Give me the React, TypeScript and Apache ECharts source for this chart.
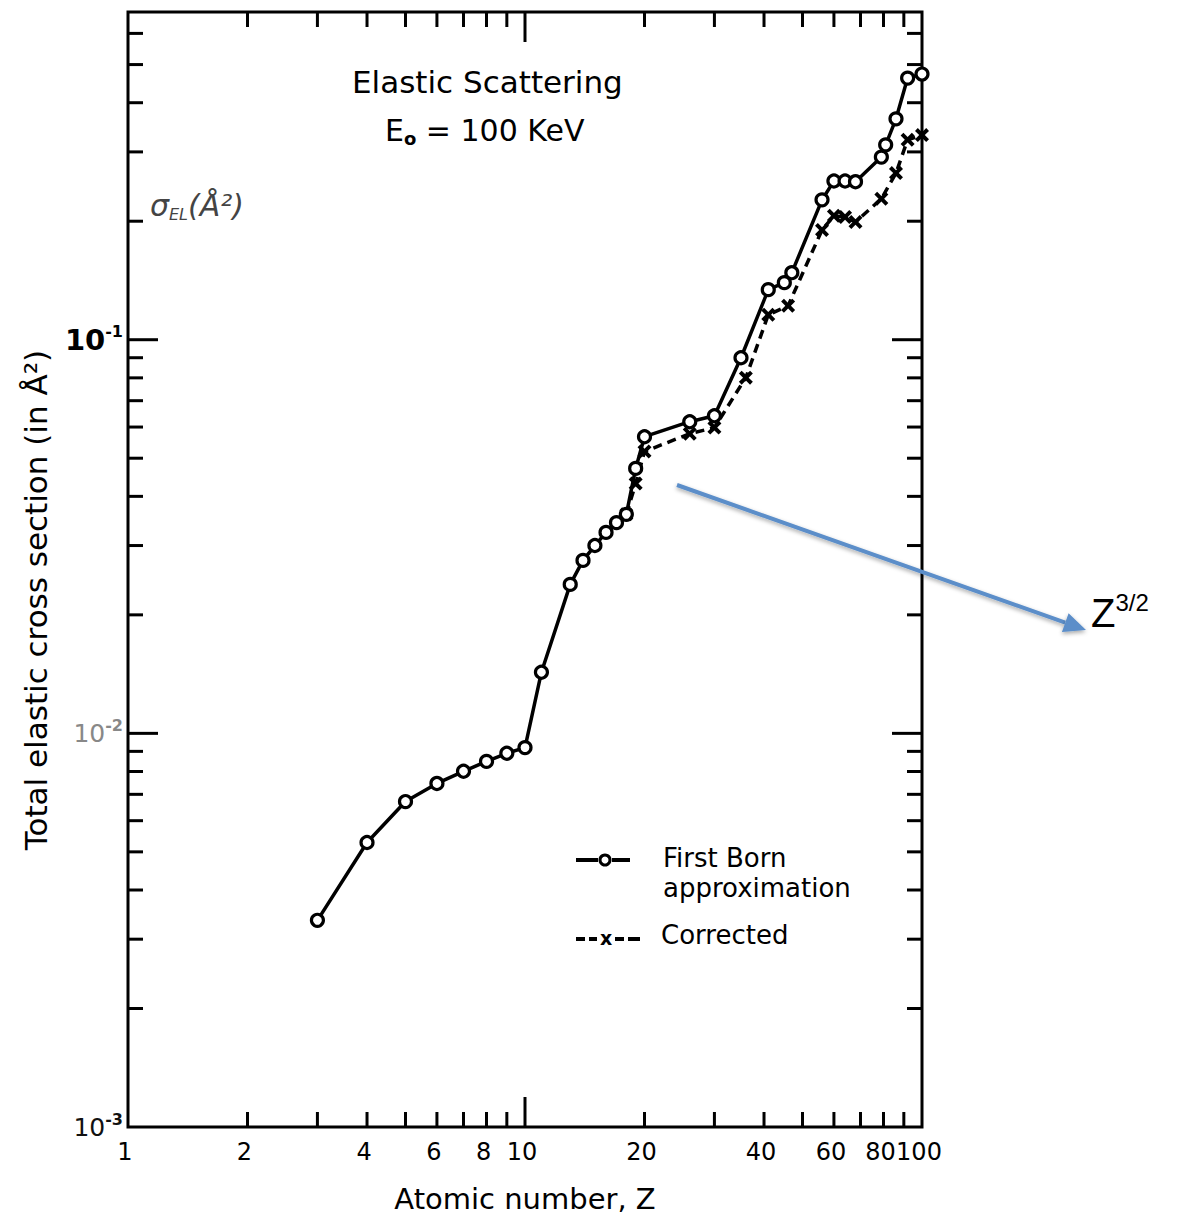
import React, { useEffect, useRef } from "react";
import * as echarts from "echarts";

// ---- data ----
const bornZ = [3, 4, 5, 6, 7, 8, 9, 10, 11, 13, 14, 15, 16, 17, 18, 19, 20, 26, 30, 35, 41, 45, 47, 56, 60, 64, 68, 79, 81, 86, 92, 100];
const bornSigma = [0.00335, 0.00528, 0.00671, 0.00746, 0.00801, 0.00849, 0.0089, 0.0092, 0.0143, 0.0239, 0.0275, 0.03, 0.0324, 0.0343, 0.036, 0.0471, 0.0567, 0.0619, 0.0641, 0.09, 0.134, 0.1396, 0.148, 0.2266, 0.253, 0.253, 0.252, 0.291, 0.3126, 0.364, 0.462, 0.473];
const corrZ = [18, 19, 20, 26, 30, 36, 41, 46, 56, 60, 64, 68, 79, 86, 92, 100];
const corrSigma = [0.036, 0.0431, 0.052, 0.0577, 0.0598, 0.0801, 0.1157, 0.122, 0.19, 0.2065, 0.205, 0.199, 0.228, 0.265, 0.322, 0.331];

const xTickVals = [2, 3, 4, 5, 6, 7, 8, 9, 10, 20, 30, 40, 50, 60, 70, 80, 90];
const xMajorTicks = [10];
const xLabelVals = [1, 2, 4, 6, 8, 10, 20, 40, 60, 80, 100];
const yTickVals = [0.002, 0.003, 0.004, 0.005, 0.006, 0.007, 0.008, 0.009, 0.01, 0.02, 0.03, 0.04, 0.05, 0.06, 0.07, 0.08, 0.09, 0.1, 0.2, 0.3, 0.4, 0.5, 0.6];
const yMajorTicks = [0.01, 0.1];
const yLabelVals = [0.001, 0.01, 0.1];
const yLabelExps = ["-3", "-2", "-1"];

const X_MIN = 1;
const X_MAX = 100;
const Y_MIN = 0.001;
const Y_MAX = 0.68;

const FONT = '"DejaVu Sans", "Liberation Sans", sans-serif';
const xSymbol = "path://M0,2 L2,0 L5,3 L8,0 L10,2 L7,5 L10,8 L8,10 L5,7 L2,10 L0,8 L3,5 Z";

function tickSeries(kind: "x" | "y", vals: number[], majors: number[]) {
  return {
    type: "custom",
    coordinateSystem: "cartesian2d",
    silent: true,
    clip: false,
    z: 1,
    data: vals.map((v) => (kind === "x" ? [v, Y_MIN] : [X_MIN, v])),
    renderItem: (params: any, api: any) => {
      const vx = api.value(0);
      const vy = api.value(1);
      const p = api.coord([vx, vy]);
      const cs = params.coordSys;
      const v = kind === "x" ? vx : vy;
      const len = majors.indexOf(v) >= 0 ? 30 : 15;
      const style = { stroke: "#000", lineWidth: 3 };
      if (kind === "x") {
        const yb = cs.y + cs.height;
        const yt = cs.y;
        return {
          type: "group",
          children: [
            { type: "line", shape: { x1: p[0], y1: yb, x2: p[0], y2: yb - len }, style },
            { type: "line", shape: { x1: p[0], y1: yt, x2: p[0], y2: yt + len }, style },
          ],
        };
      }
      const xl = cs.x;
      const xr = cs.x + cs.width;
      return {
        type: "group",
        children: [
          { type: "line", shape: { x1: xl, y1: p[1], x2: xl + len, y2: p[1] }, style },
          { type: "line", shape: { x1: xr, y1: p[1], x2: xr - len, y2: p[1] }, style },
        ],
      };
    },
  };
}

const xLabelSeries = {
  type: "custom",
  coordinateSystem: "cartesian2d",
  silent: true,
  clip: false,
  data: xLabelVals.map((v) => [v, Y_MIN]),
  renderItem: (params: any, api: any) => {
    const p = api.coord([api.value(0), api.value(1)]);
    const cs = params.coordSys;
    return {
      type: "text",
      x: p[0] - 3,
      y: cs.y + cs.height + 13,
      style: {
        text: String(xLabelVals[params.dataIndex]),
        align: "center",
        verticalAlign: "top",
        fontSize: 24,
        fontFamily: FONT,
        fill: "#000",
      },
    };
  },
};

const yLabelColors = ["#111", "#888", "#000"];
const yLabelSeries = {
  type: "custom",
  coordinateSystem: "cartesian2d",
  silent: true,
  clip: false,
  data: yLabelVals.map((v) => [X_MIN, v]),
  renderItem: (params: any, api: any) => {
    const p = api.coord([api.value(0), api.value(1)]);
    const cs = params.coordSys;
    const i = params.dataIndex;
    const bold = i === 2;
    const col = yLabelColors[i];
    return {
      type: "text",
      x: cs.x - 5,
      y: p[1],
      style: {
        text: "{b|10}{e|" + yLabelExps[i] + "}",
        align: "right",
        verticalAlign: "middle",
        rich: {
          b: { fontSize: bold ? 29 : 25, fontWeight: bold ? "bold" : "normal", fontFamily: FONT, fill: col, color: col },
          e: { fontSize: 16, fontWeight: "bold", fontFamily: FONT, fill: col, color: col, padding: [0, 0, 16, 0] },
        },
      },
    };
  },
};

// arrow geometry (annotation)
const A0 = [677, 485];
const A1 = [1086, 630];
const ux = (A1[0] - A0[0]) / Math.hypot(A1[0] - A0[0], A1[1] - A0[1]);
const uy = (A1[1] - A0[1]) / Math.hypot(A1[0] - A0[0], A1[1] - A0[1]);
const HL = 22;
const HW = 10;
const bx = A1[0] - HL * ux;
const by = A1[1] - HL * uy;
const ARROW_COLOR = "#5b8ec9";

const option: any = {
  animation: false,
  backgroundColor: "#fff",
  grid: {
    left: 128,
    top: 12,
    width: 794,
    height: 1116,
    show: true,
    borderColor: "#000",
    borderWidth: 3,
    backgroundColor: "transparent",
  },
  xAxis: {
    type: "log",
    logBase: 10,
    min: X_MIN,
    max: X_MAX,
    axisLine: { show: false },
    axisTick: { show: false },
    axisLabel: { show: false },
    splitLine: { show: false },
    name: "Atomic number, Z",
    nameLocation: "middle",
    nameGap: 57,
    nameTextStyle: { fontSize: 29, fontFamily: FONT, color: "#000" },
  },
  yAxis: {
    type: "log",
    logBase: 10,
    min: Y_MIN,
    max: Y_MAX,
    axisLine: { show: false },
    axisTick: { show: false },
    axisLabel: { show: false },
    splitLine: { show: false },
  },
  series: [
    tickSeries("x", xTickVals, xMajorTicks),
    tickSeries("y", yTickVals, yMajorTicks),
    xLabelSeries,
    yLabelSeries,
    {
      type: "line",
      name: "Corrected",
      data: corrZ.map((z, i) => [z, corrSigma[i]]),
      symbol: xSymbol,
      symbolSize: 14,
      showAllSymbol: true,
      lineStyle: { color: "#000", width: 3.5, type: [9, 6] },
      itemStyle: { color: "#000" },
      z: 3,
    },
    {
      type: "line",
      name: "First Born approximation",
      data: bornZ.map((z, i) => [z, bornSigma[i]]),
      symbol: "circle",
      symbolSize: 12,
      showAllSymbol: true,
      lineStyle: { color: "#000", width: 3.5 },
      itemStyle: { color: "#fff", borderColor: "#000", borderWidth: 3.2 },
      z: 4,
    },
  ],
  graphic: [
    // title
    {
      type: "text",
      left: 352,
      top: 66,
      style: { text: "Elastic Scattering", fontSize: 31, fontFamily: FONT, fill: "#000" },
    },
    {
      type: "text",
      left: 385,
      top: 115,
      style: {
        text: "{a|E}{s|o}{a| = 100 KeV}",
        rich: {
          a: { fontSize: 30, fontFamily: FONT, fill: "#000", color: "#000" },
          s: { fontSize: 18, fontWeight: "bold", fontFamily: FONT, fill: "#000", color: "#000", padding: [16, 0, 0, 0] },
        },
      },
    },
    // y axis title
    {
      type: "text",
      x: 36,
      y: 600,
      rotation: Math.PI / 2,
      style: {
        text: "Total elastic cross section (in Å²)",
        align: "center",
        verticalAlign: "middle",
        fontSize: 31,
        fontFamily: FONT,
        fill: "#000",
      },
    },
    // handwritten note
    {
      type: "text",
      left: 150,
      top: 190,
      style: {
        text: "{a|σ}{s|EL}{a|(Å²)}",
        rich: {
          a: { fontSize: 30, fontStyle: "italic", fontFamily: FONT, fill: "#444", color: "#444", fontWeight: "lighter" },
          s: { fontSize: 16, fontStyle: "italic", fontFamily: FONT, fill: "#444", color: "#444", padding: [18, 0, 0, 0] },
        },
      },
    },
    // legend: First Born
    { type: "line", shape: { x1: 576, y1: 860, x2: 598, y2: 860 }, style: { stroke: "#000", lineWidth: 4 } },
    { type: "circle", shape: { cx: 605, cy: 860, r: 5 }, style: { stroke: "#000", lineWidth: 3, fill: "#fff" } },
    { type: "line", shape: { x1: 612, y1: 860, x2: 630, y2: 860 }, style: { stroke: "#000", lineWidth: 4 } },
    {
      type: "text",
      left: 663,
      top: 843,
      style: { text: "First Born\napproximation", fontSize: 26, lineHeight: 30, fontFamily: FONT, fill: "#000" },
    },
    // legend: Corrected
    { type: "line", shape: { x1: 576, y1: 939, x2: 585, y2: 939 }, style: { stroke: "#000", lineWidth: 4 } },
    { type: "line", shape: { x1: 589, y1: 939, x2: 597, y2: 939 }, style: { stroke: "#000", lineWidth: 4 } },
    { type: "text", x: 606, y: 938, style: { text: "x", align: "center", verticalAlign: "middle", fontSize: 19, fontWeight: "bold", fontFamily: FONT, fill: "#000" } },
    { type: "line", shape: { x1: 615, y1: 939, x2: 624, y2: 939 }, style: { stroke: "#000", lineWidth: 4 } },
    { type: "line", shape: { x1: 628, y1: 939, x2: 640, y2: 939 }, style: { stroke: "#000", lineWidth: 4 } },
    {
      type: "text",
      left: 661,
      top: 922,
      style: { text: "Corrected", fontSize: 26, fontFamily: FONT, fill: "#000" },
    },
    // blue arrow annotation
    {
      type: "line",
      shape: { x1: A0[0], y1: A0[1], x2: bx, y2: by },
      style: { stroke: ARROW_COLOR, lineWidth: 4, shadowBlur: 4, shadowColor: "rgba(0,0,0,0.35)", shadowOffsetY: 2 },
    },
    {
      type: "polygon",
      shape: {
        points: [
          [A1[0], A1[1]],
          [bx - HW * uy, by + HW * ux],
          [bx + HW * uy, by - HW * ux],
        ],
      },
      style: { fill: ARROW_COLOR, shadowBlur: 4, shadowColor: "rgba(0,0,0,0.35)", shadowOffsetY: 2 },
    },
    {
      type: "text",
      left: 1091,
      top: 590,
      style: {
        text: "{z|Z}{s|3/2}",
        rich: {
          z: { fontSize: 40, fontFamily: '"Liberation Sans", Arial, sans-serif', fill: "#000", color: "#000" },
          s: { fontSize: 24, fontFamily: '"Liberation Sans", Arial, sans-serif', fill: "#000", color: "#000", padding: [0, 0, 22, 0] },
        },
      },
    },
  ],
};

export default function App() {
  const ref = useRef<HTMLDivElement>(null);
  useEffect(() => {
    const chart = echarts.init(ref.current as HTMLDivElement, null, { renderer: "svg" });
    chart.setOption(option);
    return () => chart.dispose();
  }, []);
  return (
    <div
      ref={ref}
      style={{ position: "absolute", left: 0, top: 0, width: 1200, height: 1218, background: "#fff" }}
    />
  );
}
